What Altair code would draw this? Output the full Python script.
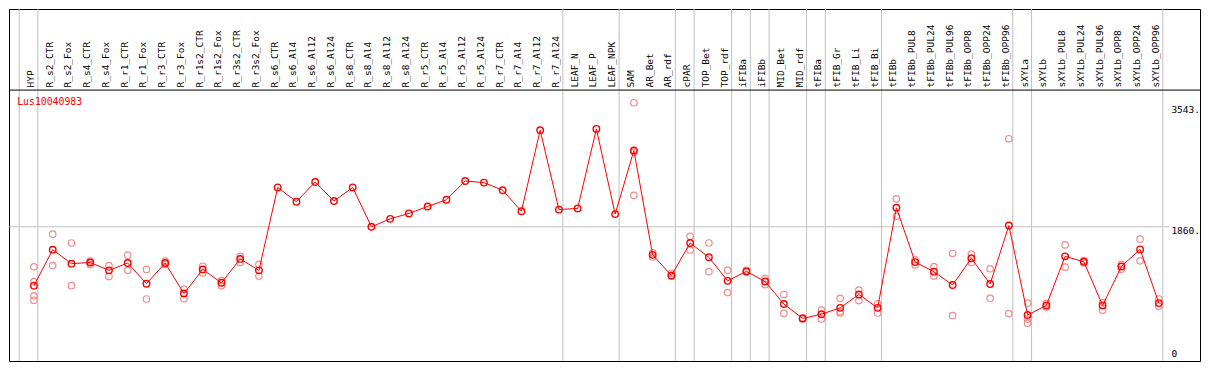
import altair as alt
import pandas as pd

# ---------------- data ----------------
categories = [
    "HYP", "R_s2_CTR", "R_s2_Fox", "R_s4_CTR", "R_s4_Fox", "R_r1_CTR", "R_r1_Fox",
    "R_r3_CTR", "R_r3_Fox", "R_r1s2_CTR", "R_r1s2_Fox", "R_r3s2_CTR", "R_r3s2_Fox",
    "R_s6_CTR", "R_s6_Al4", "R_s6_Al12", "R_s6_Al24", "R_s8_CTR", "R_s8_Al4",
    "R_s8_Al12", "R_s8_Al24", "R_r5_CTR", "R_r5_Al4", "R_r5_Al12", "R_r5_Al24",
    "R_r7_CTR", "R_r7_Al4", "R_r7_Al12", "R_r7_Al24", "LEAF_N", "LEAF_P", "LEAF_NPK",
    "SAM", "AR_Bet", "AR_rdf", "cPAR", "TOP_Bet", "TOP_rdf", "iFIBa", "iFIBb",
    "MID_Bet", "MID_rdf", "tFIBa", "tFIB_Gr", "tFIB_Li", "tFIB_Bi", "tFIBb",
    "tFIBb_PUL8", "tFIBb_PUL24", "tFIBb_PUL96", "tFIBb_OPP8", "tFIBb_OPP24",
    "tFIBb_OPP96", "sXYLa", "sXYLb", "sXYLb_PUL8", "sXYLb_PUL24", "sXYLb_PUL96",
    "sXYLb_OPP8", "sXYLb_OPP24", "sXYLb_OPP96",
]

means = [
    1040, 1541, 1346, 1363, 1253, 1355, 1067, 1355, 930, 1266, 1080, 1412, 1253,
    2408, 2209, 2484, 2218, 2408, 1860, 1970, 2046, 2143, 2236, 2497, 2475, 2369,
    2076, 3205, 2099, 2116, 3223, 2036,
    2922, 1469, 1182, 1634, 1435, 1107, 1239, 1097, 784, 584, 642, 731, 917, 731,
    2125, 1368, 1235, 1049, 1421, 1063, 1877,
    632, 765, 1448, 1372, 765, 1306, 1545, 797,
]

replicates = [
    [1302, 1097, 898, 837], [1757, 1319], [1634, 1040], [1382, 1336], [1319, 1169],
    [1465, 1253], [1266, 854], [1382, 1336], [991, 858], [1310, 1217], [1111, 1040],
    [1448, 1363], [1336, 1173],
    [], [], [], [], [], [], [], [], [], [], [], [], [], [], [], [], [], [], [],
    [3587, 2900, 2298], [1496, 1439], [1213, 1173], [1727, 1536], [1634, 1235],
    [1253, 943], [1253, 1226], [1137, 1053], [917, 655], [592, 575], [699, 575],
    [863, 677, 659], [978, 832], [788, 659],
    [2249, 2006], [1399, 1328], [1306, 1173], [1488, 624], [1479, 1363],
    [1275, 863], [3086, 651],
    [797, 575, 518], [792, 744], [1607, 1297], [1390, 1355], [805, 699],
    [1336, 1270], [1687, 1386], [854, 752],
]

# separators are drawn just after these category positions (0 = before the first)
separator_after = [0, 1, 29, 32, 35, 36, 38, 39, 40, 42, 43, 46, 53, 54, 61]

axis_values = [3543, 1860, 0]
axis_labels = ["3543.", "1860.", "0"]
gridline_values = [1860]
gene_title = "Lus10040983"

# ---------------- tables ----------------
mean_df = pd.DataFrame({"idx": list(range(1, len(categories) + 1)),
                        "cat": categories, "v": means})
rep_rows = []
for i, reps in enumerate(replicates, start=1):
    for r in reps:
        rep_rows.append({"idx": i, "v": r})
rep_df = pd.DataFrame(rep_rows)
sep_df = pd.DataFrame({"pos": [s + 0.21 for s in separator_after]})
grid_df = pd.DataFrame({"v": gridline_values})
ax_df = pd.DataFrame({"v": axis_values, "t": axis_labels})

# ---------------- layout ----------------
W, H = 1191, 352
sx, sy = W / 1207.0, H / 369.0
def px(xr):
    return (xr - 1) * sx
def py(yr):
    return yr * sy

FONT = "DejaVu Sans Mono"
xs = alt.Scale(domain=[-0.3316, 63.195], nice=False, zero=False)
ys = alt.Scale(domain=[-9.3, 4892.4], nice=False, zero=False)

def X(f):
    return alt.X(f, type="quantitative", scale=xs, axis=None)

def Y(f):
    return alt.Y(f, type="quantitative", scale=ys, axis=None)

def marker(df, color, width):
    return alt.Chart(df).mark_point(
        shape="circle", filled=False, stroke=color, strokeWidth=width, size=42, opacity=1
    ).encode(x=X("idx"), y=Y("v"))

vgrid = alt.Chart(sep_df).mark_rule(color="#c0c0c0", strokeWidth=1).encode(x=X("pos"))

hgrid = alt.Chart(grid_df).mark_rule(color="#c0c0c0", strokeWidth=1).encode(
    y=Y("v"), x=alt.value(0), x2=alt.value(px(1177)))

header_rule = alt.Chart(grid_df).mark_rule(color="black", strokeWidth=1).encode(
    y=alt.value(py(85)), x=alt.value(0), x2=alt.value(W))

header = alt.Chart(mean_df).mark_text(
    angle=270, align="left", baseline="alphabetic", font=FONT, fontSize=9.5,
    color="black").encode(x=X("idx"), y=alt.value(py(82.3)), text="cat:N")

title = alt.Chart(grid_df).mark_text(
    align="left", baseline="alphabetic", font=FONT, fontSize=9.8, color="#ff0000"
).encode(x=alt.value(px(9.3)), y=alt.value(py(100.7)), text=alt.value(gene_title))

reps_layer = marker(rep_df, "#f08c8c", 1.2)

line = alt.Chart(mean_df).mark_line(color="#ff0000", strokeWidth=1).encode(
    x=X("idx"), y=Y("v"))

mean_pts = marker(mean_df, "#ff0000", 1.4)

ax_top = alt.Chart(ax_df).transform_filter("datum.v > 0").mark_text(
    align="left", baseline="alphabetic", font=FONT, fontSize=9.5, color="black", dy=7.0
).encode(x=alt.value(px(1179)), y=Y("v"), text="t:N")

ax_zero = alt.Chart(ax_df).transform_filter("datum.v == 0").mark_text(
    align="left", baseline="alphabetic", font=FONT, fontSize=9.5, color="black", dy=-3
).encode(x=alt.value(px(1179)), y=Y("v"), text="t:N")

chart = alt.layer(
    vgrid, hgrid, header_rule, header, title, reps_layer, line, mean_pts, ax_top, ax_zero
).properties(
    width=W, height=H,
    padding={"left": 1, "top": 1, "right": 1, "bottom": 1},
    autosize=alt.AutoSizeParams(type="none"),
    background="white",
).configure_view(stroke="black", strokeWidth=1)

chart.save("out.html", embed_options={"renderer": "svg", "actions": False})
